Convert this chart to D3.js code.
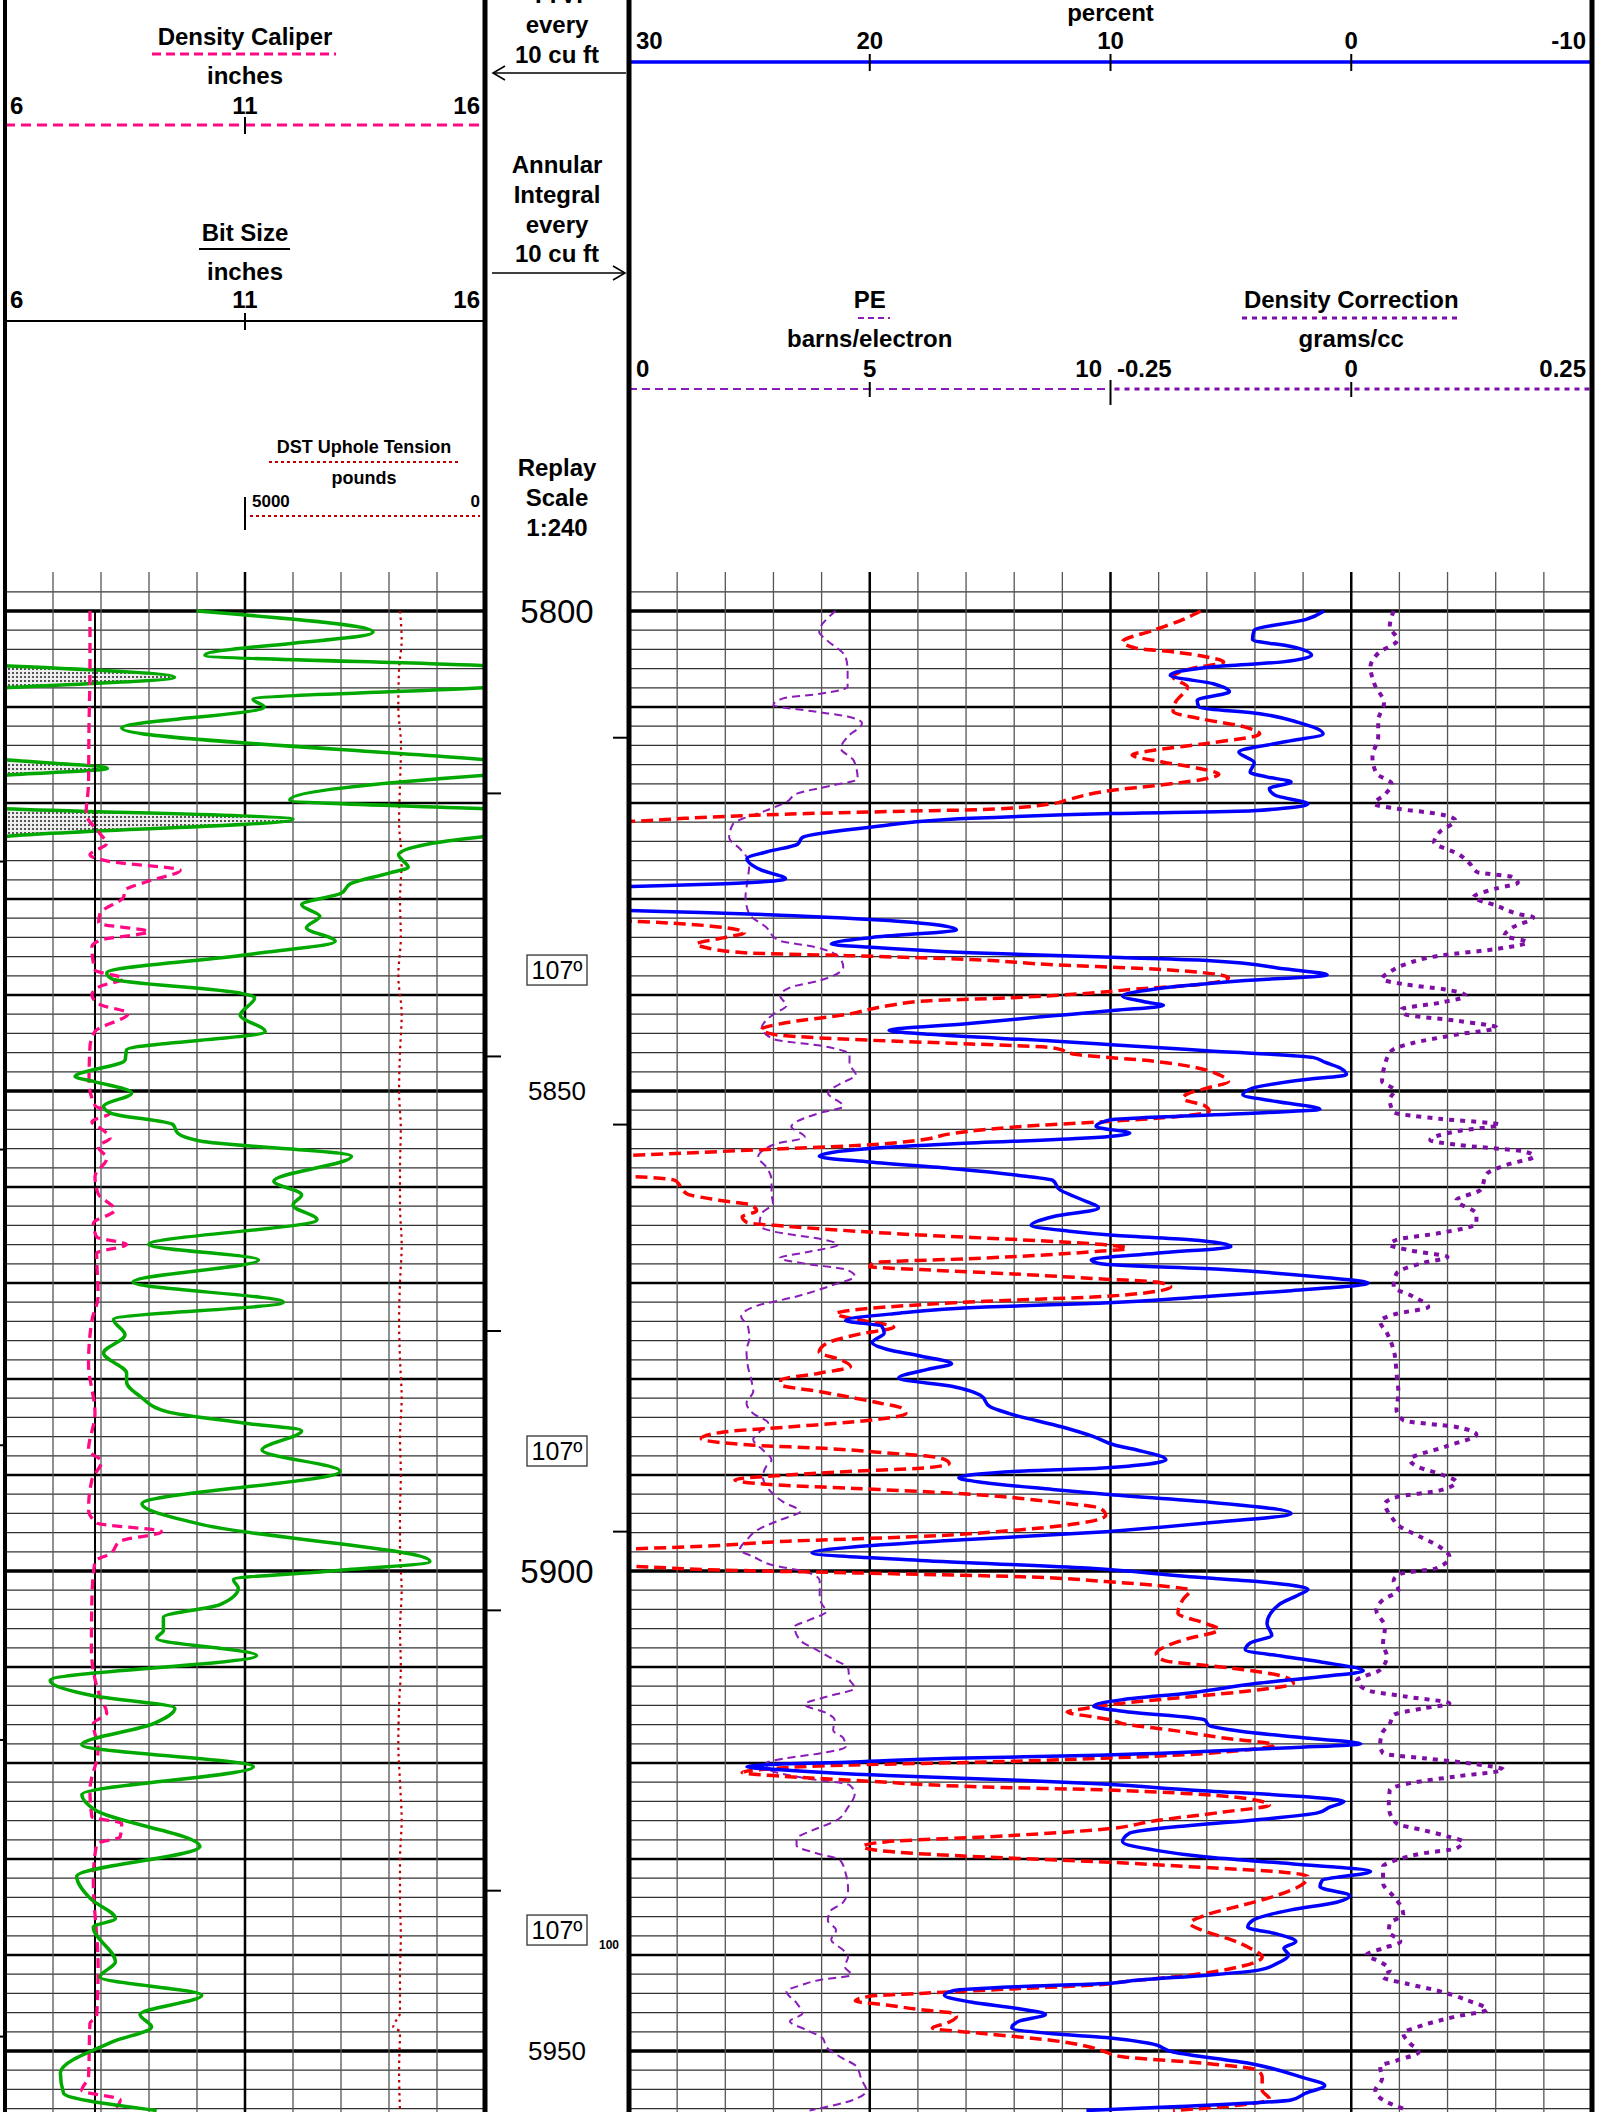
<!DOCTYPE html>
<html><head><meta charset="utf-8">
<script src="https://cdn.jsdelivr.net/npm/d3@7"></script>
<style>
body{margin:0;background:#fff}
svg{display:block}
text{font-family:"Liberation Sans",Arial,sans-serif}
</style>
</head><body>
<svg id="log" width="1599" height="2112"></svg>
<script>
// ---------- curve data: [depth ft, value] ----------
const gammaRay = [ // API; values above 150 are drawn on the wrap-around backup
[5800.0,60],[5802.2,115],[5804.6,62.5],[5805.7,150],[5806.9,203],[5808.0,150],[5809.2,77.5],[5810.0,81],
[5812.2,36.5],[5815.5,150],[5816.4,182],[5817.1,150],[5819.7,89],[5820.6,150],[5821.7,240],[5823.5,150],
[5825.4,123],[5826.7,126],[5827.3,120],[5828.4,108],[5829.4,105],[5830.6,92.7],[5831.8,98.4],[5833.0,94.2],
[5834.4,103.2],[5835.8,75.5],[5837.7,31.8],[5838.3,33.3],[5839.8,73.5],[5840.3,78],[5842.1,73.5],[5843.8,81.3],
[5845.7,38],[5846.8,37.5],[5848.5,21.9],[5849.0,27.6],[5850.2,39.6],[5851.6,30.8],[5852.3,33],[5853.5,52.5],
[5854.4,54],[5855.2,60.9],[5856.8,108.3],[5859.4,84],[5860.8,92.7],[5861.9,90],[5863.4,97.5],[5866.0,44.9],
[5867.6,79.2],[5869.9,40],[5872.0,87],[5873.8,33.9],[5875.4,37.5],[5877.3,30.8],[5879.4,38],[5880.3,38],
[5881.8,42.2],[5883.4,50.6],[5884.6,75],[5885.4,92.7],[5887.4,80.3],[5889.6,104.7],[5893.0,42.8],[5895.2,62],
[5899.0,132.8],[5900.0,102],[5900.9,71.4],[5901.8,72.9],[5903.5,67.2],[5904.8,49.5],[5906.2,49.5],[5907.0,47.4],
[5908.8,78.6],[5911.4,14.1],[5913.0,27.6],[5914.3,53.1],[5915.9,46.4],[5918.1,24],[5920.4,77.6],[5923.3,24],
[5924.9,28.2],[5928.7,60.9],[5931.8,22.4],[5934.1,26.6],[5936.2,34.5],[5937.1,27.6],[5940.7,34.5],[5942.3,29.7],
[5944.2,61.5],[5946.2,42.2],[5947.5,45.8],[5949.0,33.9],[5952.3,17.3],[5954.4,18.3],[5956.2,47.4]];

const densityCaliper = [ // inches
[5800,7.77],[5806,7.77],[5812,7.75],[5818,7.74],[5821.1,7.69],[5823.2,7.98],[5824.2,8.12],[5825.4,7.77],
[5826.1,8.19],[5827.0,9.65],[5828.2,8.95],[5829.1,8.5],[5829.8,8.47],[5831.5,7.98],[5832.5,7.95],[5833.4,8.99],
[5834.3,7.98],[5835.0,7.81],[5837.4,7.875],[5838.3,8.47],[5839.1,7.98],[5840.0,7.81],[5841.0,7.98],[5841.9,8.57],
[5843.8,7.875],[5845.4,7.77],[5849.0,7.75],[5851.5,7.875],[5852.3,8.19],[5853.2,7.81],[5854.1,8.05],[5854.9,8.19],
[5855.8,7.94],[5857.0,8.12],[5858.9,7.875],[5860.7,7.94],[5862.4,8.29],[5863.8,7.84],[5865.2,7.91],[5866.0,8.53],
[5866.9,7.91],[5871.4,7.94],[5873.9,7.81],[5878.4,7.74],[5883.6,7.875],[5887.4,7.74],[5888.6,8.01],[5890.5,7.81],
[5893.6,7.74],[5895.0,7.91],[5895.9,9.26],[5896.9,8.4],[5898.2,8.19],[5899.0,7.875],[5903.0,7.81],[5908,7.8],
[5913.1,7.98],[5914.8,8.12],[5915.9,7.84],[5918.6,7.94],[5922.8,7.77],[5925.6,7.81],[5926.3,8.43],[5927.7,8.4],
[5928.4,7.91],[5932.2,7.84],[5941.2,7.94],[5946.4,7.91],[5947.1,7.77],[5952.7,7.74],[5954.1,7.6],[5955.1,8.4],
[5956.2,8.26]];

const bitSize = [[5800,7.875],[5956.5,7.875]]; // inches

const dstTension = [ // pounds
[5800,1771],[5803,1736],[5806,1790],[5810,1806],[5814,1750],[5818,1771],[5822,1790],[5826,1736],[5830,1771],
[5834,1754],[5838,1806],[5842,1736],[5846,1771],[5850,1790],[5854,1754],[5858,1771],[5862,1771],[5866,1736],
[5870,1771],[5874,1790],[5878,1771],[5882,1736],[5886,1771],[5890,1754],[5894,1771],[5898,1771],[5902,1736],
[5906,1771],[5910,1754],[5914,1790],[5918,1806],[5922,1771],[5926,1736],[5930,1771],[5934,1771],[5938,1754],
[5942,1771],[5946,1771],[5947.5,1910],[5948,1771],[5952,1790],[5956.2,1771]];

const densityPorosity = [ // percent (solid blue)
[5800.0,1.13],[5800.9,1.9],[5802.0,4.03],[5803.0,4.1],[5803.7,2.5],[5804.6,1.65],[5805.3,2.84],[5805.8,5.7],
[5806.7,7.52],[5807.6,5.7],[5808.4,5.06],[5809.3,6.4],[5810.0,6.33],[5810.7,3.8],[5811.6,2.2],[5812.8,1.17],
[5813.6,2.7],[5814.7,4.67],[5815.8,4.03],[5816.8,4.2],[5817.3,3.48],[5817.8,2.5],[5818.5,3.4],[5819.2,3.16],
[5820.1,1.8],[5820.8,4.1],[5821.1,10.0],[5821.6,15.8],[5822.5,19.9],[5823.6,22.8],[5824.3,23.0],[5825.1,24.3],
[5825.8,25.1],[5827.0,24.5],[5827.9,23.5],[5828.4,26.0],[5828.7,29.9],[5829.2,36],[5830.7,36],[5831.2,30.0],
[5831.4,27.0],[5831.9,21.8],[5832.6,17.5],[5833.2,16.4],[5834.0,19.9],[5834.7,21.6],[5835.0,20.1],[5835.6,15.8],
[5836.1,9.6],[5836.4,6.0],[5837.3,2.7],[5837.9,1.0],[5838.5,4.4],[5839.4,8.2],[5840.1,9.5],[5840.7,8.6],
[5841.1,7.8],[5841.6,9.8],[5842.3,13.0],[5843.0,16.0],[5843.7,19.2],[5844.1,17.5],[5844.8,12.4],[5845.2,9.8],
[5845.8,6.0],[5846.5,1.6],[5847.0,1.1],[5847.6,0.46],[5848.3,0.2],[5848.8,1.9],[5849.7,4.1],[5850.4,4.5],
[5851.1,3.1],[5851.9,1.3],[5852.3,3.9],[5853.0,10.0],[5853.7,10.6],[5854.4,9.2],[5854.9,11.0],[5855.5,16.5],
[5856.0,20.0],[5856.8,22.1],[5857.4,20.0],[5858.1,16.5],[5858.8,13.8],[5859.3,12.4],[5860.3,12.1],[5861.2,11.3],
[5862.2,10.5],[5863.1,12.4],[5864.0,13.3],[5864.6,11.7],[5865.0,10.0],[5865.5,6.7],[5866.2,5.0],[5866.9,8.1],
[5867.6,10.8],[5868.0,10.4],[5868.6,5.3],[5869.4,1.2],[5870.0,-0.7],[5870.8,2.5],[5871.4,6.0],[5872.1,10.5],
[5872.5,15.2],[5873.2,19.0],[5873.9,21.0],[5874.5,19.5],[5875.2,19.4],[5876.2,19.9],[5876.9,19.3],[5877.6,17.9],
[5878.4,16.6],[5879.0,17.6],[5879.9,18.8],[5880.8,16.5],[5881.7,15.4],[5882.9,15.0],[5883.6,14.2],[5885.0,12.0],
[5886.0,10.7],[5886.9,9.8],[5887.4,8.9],[5888.4,7.7],[5889.3,10.5],[5889.6,13.8],[5890.3,16.3],[5890.8,15.2],
[5891.5,12.4],[5892.0,10.2],[5892.8,6.0],[5894.0,2.5],[5895.0,6.0],[5895.9,10.2],[5896.8,16.5],[5897.5,20.7],
[5898.1,22.4],[5898.9,17.9],[5899.7,11.0],[5900.6,6.7],[5901.1,3.9],[5901.9,1.8],[5902.5,2.2],[5903.5,3.0],
[5905.5,3.5],[5906.7,3.3],[5907.5,4.2],[5908.2,4.4],[5908.9,2.8],[5909.5,1.2],[5910.4,-0.5],[5911.0,1.2],
[5911.7,3.9],[5912.7,6.7],[5913.4,9.5],[5914.1,10.7],[5914.6,9.5],[5915.5,6.1],[5916.1,5.9],[5916.7,4.6],
[5917.4,1.9],[5918.0,-0.4],[5918.4,2.5],[5919.0,8.1],[5919.2,10.5],[5919.5,16.5],[5919.9,20.7],[5920.2,24.4],
[5920.4,25.1],[5920.7,23.7],[5921.3,19.3],[5921.8,13.8],[5922.2,10.3],[5922.8,6.7],[5923.5,2.0],[5924.0,0.3],
[5924.6,0.9],[5925.2,1.4],[5925.9,3.9],[5926.5,6.7],[5927.3,9.2],[5928.2,9.5],[5929.1,8.1],[5929.8,6.0],
[5930.5,2.5],[5931.3,-0.8],[5932.2,1.2],[5932.9,1.3],[5933.8,0.06],[5934.5,0.6],[5935.3,2.5],[5936.4,4.1],
[5937.1,4.3],[5937.8,3.1],[5938.6,2.3],[5939.3,2.8],[5940.0,2.6],[5940.9,3.1],[5941.6,3.9],[5942.1,6.0],
[5942.6,8.8],[5943.0,10.5],[5943.3,13.8],[5943.7,16.5],[5944.2,16.9],[5944.9,15.8],[5945.6,13.8],[5946.2,12.7],
[5946.9,13.8],[5947.6,14.1],[5948.2,12.4],[5948.6,10.2],[5949.2,8.4],[5950.1,7.4],[5951.3,4.2],[5952.7,2.1],
[5953.6,1.1],[5954.4,1.9],[5955.1,2.5],[5955.8,7.4],[5956.2,11.0]];

const neutronPorosity = [ // percent (dashed red)
[5800.0,6.25],[5800.9,7.0],[5802.0,8.2],[5803.2,9.5],[5803.9,8.9],[5804.2,7.6],[5804.8,6.0],[5805.3,5.3],
[5806.0,6.65],[5806.9,7.4],[5807.9,6.8],[5809.5,7.3],[5810.5,7.4],[5811.2,6.3],[5812.1,4.4],[5812.8,3.8],
[5813.8,6.0],[5814.5,8.2],[5815.0,9.1],[5815.7,7.9],[5816.4,6.3],[5817.0,5.5],[5817.6,6.3],[5818.2,8.2],
[5818.7,10.0],[5819.6,11.7],[5820.1,12.5],[5820.7,15.5],[5820.8,17.5],[5821.1,22.6],[5821.6,27.7],[5821.9,29.8],
[5822.3,36],[5831.9,36],[5832.3,30.0],[5832.6,27.7],[5833.1,25.7],[5833.5,25.2],[5834.0,26.0],[5834.7,27.2],
[5835.0,26.9],[5835.6,25.2],[5835.9,20.9],[5836.3,15.8],[5836.8,12.7],[5837.3,8.2],[5837.8,5.7],[5838.2,5.1],
[5838.9,6.3],[5839.4,9.0],[5839.9,11.4],[5840.3,14.3],[5840.6,17.5],[5841.1,19.2],[5842.0,20.9],[5842.9,23.5],
[5843.6,24.5],[5844.1,24.0],[5844.7,20.1],[5845.1,15.8],[5845.5,12.4],[5846.2,11.4],[5846.9,8.2],[5847.7,6.2],
[5848.3,5.5],[5849.0,5.1],[5849.7,6.0],[5850.3,6.8],[5850.8,7.0],[5851.5,6.1],[5852.1,5.9],[5852.7,7.4],
[5853.2,10.3],[5853.7,13.7],[5854.4,16.5],[5855.1,17.9],[5855.6,20.0],[5856.0,23.4],[5856.3,26.2],[5856.7,30.0],
[5857.2,36],[5858.5,36],[5858.9,30],[5859.3,28.1],[5859.8,27.9],[5860.7,27.6],[5861.4,26.2],[5861.9,24.9],
[5862.5,24.7],[5863.1,25.3],[5863.7,25.1],[5864.1,23.4],[5864.6,20.6],[5865.0,17.9],[5865.5,13.7],[5866.0,10.3],
[5866.4,9.3],[5866.7,10.5],[5867.4,15.2],[5867.9,19.8],[5868.3,20.0],[5868.6,17.9],[5869.1,13.7],[5869.6,10.2],
[5869.9,8.1],[5870.4,7.5],[5871.1,8.8],[5871.4,10.3],[5871.9,15.2],[5872.5,19.3],[5873.2,21.4],[5873.9,20.3],
[5874.6,19.0],[5875.3,20.4],[5876.3,21.8],[5877.2,22.1],[5878.0,21.2],[5878.7,20.8],[5879.4,22.1],[5880.1,23.7],
[5880.6,23.7],[5881.3,22.1],[5882.0,20.6],[5882.5,19.6],[5883.0,18.7],[5883.6,18.5],[5884.3,20.0],[5885.0,23.4],
[5885.5,26.0],[5886.2,27.0],[5886.9,24.8],[5887.2,22.1],[5887.7,19.3],[5888.2,17.1],[5888.8,16.7],[5889.3,17.9],
[5889.6,20.6],[5890.0,23.4],[5890.5,25.6],[5891.0,24.1],[5891.4,20.6],[5891.9,16.5],[5892.8,12.4],[5893.5,10.4],
[5894.2,10.2],[5895.0,11.2],[5895.7,13.7],[5896.4,17.9],[5896.9,23.4],[5897.5,27.6],[5897.7,30],[5898.2,36],
[5899.1,36],[5899.5,30],[5899.9,26.2],[5900.2,20.6],[5900.6,13.7],[5901.1,10.2],[5901.5,8.1],[5902.0,6.7],
[5903.0,7.0],[5904.4,7.2],[5905.5,6.0],[5906.1,5.5],[5907.2,7.0],[5908.6,8.1],[5909.3,7.8],[5910.1,5.0],
[5911.0,2.8],[5911.7,2.4],[5912.4,3.9],[5913.1,6.7],[5913.8,9.6],[5914.3,11.0],[5914.7,11.8],[5915.2,10.7],
[5915.5,10.0],[5915.9,9.5],[5916.6,7.4],[5917.4,5.3],[5918.1,3.2],[5918.7,4.6],[5919.2,7.4],[5919.5,10.3],
[5919.9,15.2],[5920.2,20.7],[5920.7,24.6],[5921.0,25.3],[5921.4,23.5],[5921.9,20.0],[5922.5,15.2],[5922.8,10.3],
[5923.2,6.7],[5923.9,3.9],[5924.4,3.4],[5925.1,5.3],[5926.0,8.1],[5926.9,10.3],[5927.7,15.2],[5928.2,19.3],
[5928.7,20.3],[5929.2,19.3],[5929.8,15.2],[5930.3,10.3],[5930.8,6.7],[5931.3,3.2],[5931.8,1.8],[5932.6,2.0],
[5933.8,3.1],[5934.8,4.5],[5935.8,6.0],[5936.7,6.7],[5937.6,6.0],[5938.4,5.0],[5939.3,4.2],[5940.2,3.7],
[5941.2,4.6],[5942.1,6.7],[5942.8,9.5],[5943.1,10.5],[5943.5,13.8],[5944.0,17.9],[5944.3,20.0],[5944.8,20.6],
[5945.2,19.3],[5945.7,17.9],[5946.1,16.5],[5946.4,16.4],[5947.1,16.8],[5947.6,17.4],[5948.2,15.2],[5948.9,12.4],
[5949.5,11.0],[5950.1,10.2],[5950.6,9.5],[5951.3,6.0],[5952.0,3.9],[5952.7,3.7],[5954.1,3.7],[5955.0,3.4],
[5955.8,5.3],[5956.2,7.4]];

const photoElectric = [ // barns/electron
[5800.0,4.29],[5802.2,3.95],[5803.0,4.1],[5804.8,4.5],[5806.2,4.54],[5807.9,4.54],[5808.6,4.0],[5809.1,3.2],
[5809.8,3.0],[5810.5,3.9],[5811.0,4.54],[5811.7,4.84],[5813.1,4.54],[5814.3,4.4],[5815.6,4.67],[5817.5,4.75],
[5818.2,4.2],[5819.0,3.5],[5819.9,3.27],[5820.8,2.84],[5822.2,2.16],[5823.6,2.08],[5824.9,2.33],[5826.3,2.5],
[5828.1,2.46],[5829.8,2.42],[5831.6,2.5],[5832.9,2.84],[5834.3,3.1],[5835.0,3.86],[5836.1,4.37],[5837.1,4.45],
[5838.5,3.95],[5839.2,3.35],[5840.1,3.14],[5841.1,3.27],[5842.0,3.0],[5843.4,2.76],[5844.6,3.0],[5845.3,4.0],
[5846.2,4.58],[5847.2,4.58],[5848.3,4.71],[5849.3,4.37],[5850.2,4.13],[5851.6,4.45],[5852.3,3.96],[5853.2,3.48],
[5853.7,3.37],[5854.8,3.65],[5855.5,3.06],[5856.2,2.78],[5856.9,2.68],[5857.9,2.85],[5859.3,2.96],[5860.7,2.96],
[5861.7,2.99],[5862.8,2.75],[5864.0,2.71],[5864.7,3.06],[5865.4,3.96],[5866.0,4.34],[5866.8,3.68],[5867.4,3.13],
[5868.0,3.68],[5868.6,4.5],[5869.3,4.69],[5870.2,4.24],[5871.4,3.48],[5872.5,2.58],[5873.5,2.33],[5874.5,2.47],
[5875.8,2.5],[5877.0,2.44],[5878.7,2.47],[5880.1,2.54],[5881.3,2.58],[5882.5,2.44],[5883.6,2.58],[5884.6,2.89],
[5885.5,2.71],[5886.3,2.58],[5887.4,2.78],[5888.4,2.96],[5889.1,2.85],[5890.2,2.78],[5891.4,2.89],[5892.8,3.2],
[5893.8,3.55],[5894.7,3.13],[5895.6,2.71],[5896.8,2.44],[5897.8,2.3],[5898.5,2.58],[5899.4,2.99],[5900.1,3.68],
[5901.0,3.96],[5902.7,3.96],[5903.4,4.0],[5904.2,4.1],[5905.1,3.75],[5905.8,3.44],[5907.2,3.55],[5908.2,3.89],
[5909.2,4.24],[5910.1,4.55],[5911.3,4.58],[5912.2,4.69],[5913.1,4.1],[5913.9,3.65],[5914.8,4.1],[5915.5,4.27],
[5916.6,4.24],[5917.4,4.45],[5918.3,4.5],[5919.0,3.96],[5919.5,3.27],[5920.0,2.85],[5920.7,2.92],[5921.6,3.68],
[5922.3,4.58],[5923.2,4.69],[5924.6,4.55],[5926.0,4.3],[5927.0,3.82],[5927.9,3.48],[5928.6,3.48],[5929.4,3.89],
[5930.1,4.38],[5931.5,4.5],[5933.2,4.55],[5934.5,4.45],[5935.5,4.17],[5936.4,4.13],[5937.4,4.3],[5938.4,4.2],
[5939.5,4.45],[5940.2,4.55],[5941.2,4.48],[5942.1,4.62],[5942.6,3.96],[5943.1,3.6],[5943.8,3.27],[5945.0,3.48],
[5946.1,3.6],[5946.9,3.34],[5947.8,3.68],[5948.7,4.03],[5949.6,4.1],[5950.6,4.38],[5951.6,4.72],[5953.0,4.83],
[5954.1,4.93],[5955.1,4.65],[5956.2,3.75]];

const densityCorrection = [ // grams/cc
[5800.0,0.044],[5801.6,0.04],[5803.0,0.048],[5804.4,0.028],[5805.8,0.02],[5807.6,0.024],[5809.6,0.034],
[5811.4,0.028],[5813.1,0.028],[5815.2,0.022],[5816.9,0.026],[5818.0,0.042],[5819.0,0.036],[5820.1,0.024],
[5820.6,0.048],[5821.1,0.088],[5821.8,0.108],[5823.0,0.092],[5824.1,0.086],[5825.3,0.111],[5826.3,0.123],
[5827.2,0.131],[5827.7,0.167],[5828.3,0.173],[5828.9,0.151],[5829.8,0.127],[5830.7,0.151],[5831.6,0.175],
[5831.9,0.189],[5833.0,0.167],[5833.8,0.159],[5834.5,0.183],[5835.2,0.151],[5835.9,0.092],[5836.8,0.056],
[5837.6,0.04],[5838.3,0.032],[5838.9,0.056],[5839.4,0.096],[5840.1,0.119],[5840.8,0.092],[5841.5,0.052],
[5842.0,0.056],[5842.7,0.111],[5843.4,0.151],[5844.1,0.111],[5845.0,0.064],[5845.8,0.042],[5847.6,0.034],
[5849.0,0.032],[5849.9,0.045],[5850.9,0.04],[5852.2,0.044],[5852.9,0.092],[5853.5,0.154],[5854.2,0.109],
[5855.1,0.082],[5855.6,0.109],[5856.3,0.179],[5856.8,0.19],[5857.7,0.161],[5858.6,0.141],[5860.3,0.134],
[5861.4,0.109],[5862.8,0.13],[5863.8,0.13],[5864.8,0.092],[5865.5,0.047],[5866.0,0.04],[5866.6,0.061],
[5867.3,0.1],[5867.9,0.075],[5869.0,0.047],[5870.4,0.044],[5871.4,0.064],[5872.5,0.08],[5873.2,0.047],
[5874.0,0.03],[5875.2,0.037],[5877.4,0.045],[5879.4,0.047],[5881.5,0.049],[5883.2,0.047],[5884.3,0.054],
[5885.0,0.109],[5885.8,0.13],[5887.0,0.099],[5888.4,0.061],[5889.1,0.068],[5890.0,0.095],[5890.7,0.109],
[5891.6,0.092],[5892.3,0.047],[5893.0,0.035],[5894.4,0.042],[5895.4,0.051],[5896.4,0.071],[5897.5,0.092],
[5898.5,0.102],[5899.7,0.089],[5900.3,0.051],[5901.0,0.044],[5902.0,0.049],[5903.0,0.033],[5904.1,0.026],
[5905.8,0.035],[5907.6,0.033],[5908.9,0.037],[5910.3,0.03],[5911.4,0.006],[5912.4,0.016],[5913.1,0.058],
[5913.8,0.102],[5914.3,0.075],[5915.0,0.044],[5915.9,0.04],[5916.9,0.032],[5918.1,0.03],[5919.0,0.033],
[5919.5,0.075],[5920.0,0.12],[5920.7,0.158],[5921.4,0.109],[5922.1,0.061],[5922.8,0.04],[5924.6,0.039],
[5926.3,0.047],[5927.0,0.075],[5927.7,0.102],[5928.2,0.116],[5928.9,0.109],[5929.4,0.075],[5930.1,0.047],
[5930.8,0.033],[5932.5,0.033],[5933.9,0.044],[5935.0,0.052],[5935.8,0.054],[5936.7,0.04],[5937.6,0.039],
[5938.6,0.051],[5939.3,0.033],[5940.0,0.016],[5940.7,0.03],[5941.6,0.04],[5942.3,0.033],[5943.0,0.058],
[5943.7,0.089],[5944.7,0.12],[5945.7,0.141],[5946.4,0.109],[5947.3,0.075],[5948.2,0.054],[5949.2,0.061],
[5950.1,0.07],[5951.0,0.047],[5951.6,0.03],[5952.9,0.032],[5954.1,0.025],[5955.1,0.033],[5956.0,0.054]];

// depth annotations
const depthLabels = [5800, 5850, 5900, 5950];
const temperatureMarks = [[5837.4,"107º"],[5887.5,"107º"],[5937.4,"107º"]];
const holeVolumeTicks = [5819.0, 5846.4, 5875.0, 5904.1, 5933.3];
const annularVolumeTicks = [5813.2, 5853.5, 5895.9];
const edgeTicks = [5826.1, 5856.1, 5886.9, 5917.6, 5948.5];

// scale tick labels
const caliperTicks = ["6","11","16"];
const porosityTicks = ["30","20","10","0","-10"];
const peTicks = ["0","5","10"];
const correctionTicks = ["-0.25","0","0.25"];
const tensionTicks = ["5000","0"];

// ---------- layout ----------
const W = 1599, H = 2112, gridTop = 572;
const L = {x0:5, x1:485}, D = {x0:485, x1:629}, R = {x0:629, x1:1592};

const y = d3.scaleLinear().domain([5800, 5950]).range([611, 2051]);
const caliperX = d3.scaleLinear().domain([6, 16]).range([L.x0, L.x1]);
const grX = d3.scaleLinear().domain([0, 150]).range([L.x0, L.x1]);
const tensionX = d3.scaleLinear().domain([5000, 0]).range([(L.x0+L.x1)/2, L.x1]);
const porX = d3.scaleLinear().domain([30, -10]).range([R.x0, R.x1]);
const peX = d3.scaleLinear().domain([0, 10]).range([R.x0, (R.x0+R.x1)/2]);
const dcX = d3.scaleLinear().domain([-0.25, 0.25]).range([(R.x0+R.x1)/2, R.x1]);

const svg = d3.select("#log");
svg.append("rect").attr("width", W).attr("height", H).attr("fill", "#fff");
const defs = svg.append("defs");
const pat = defs.append("pattern").attr("id","stipple").attr("width",4).attr("height",4)
  .attr("patternUnits","userSpaceOnUse");
pat.append("rect").attr("width",4).attr("height",4).attr("fill","#eee");
pat.append("rect").attr("width",2).attr("height",2).attr("fill","#555");
defs.append("clipPath").attr("id","clipL").append("rect")
  .attr("x",L.x0).attr("y",gridTop).attr("width",L.x1-L.x0).attr("height",H-gridTop);
defs.append("clipPath").attr("id","clipR").append("rect")
  .attr("x",R.x0).attr("y",gridTop).attr("width",R.x1-R.x0).attr("height",H-gridTop);

// ---------- grid ----------
const grid = svg.append("g");
const depthLines = d3.range(5798, 5957, 2);
[L, R].forEach(tr => {
  grid.selectAll(null).data(depthLines).enter().append("line")
    .attr("x1", tr.x0).attr("x2", tr.x1)
    .attr("y1", d => y(d)).attr("y2", d => y(d))
    .attr("stroke", d => d % 10 === 0 ? "#000" : "#333")
    .attr("stroke-width", d => d % 50 === 0 ? 3.5 : d % 10 === 0 ? 2.5 : 1.2);
});
const leftDivs = d3.range(7, 16, 1);
grid.selectAll(null).data(leftDivs).enter().append("line")
  .attr("x1", d => caliperX(d)).attr("x2", d => caliperX(d))
  .attr("y1", gridTop).attr("y2", H)
  .attr("stroke", d => d === 11 ? "#000" : "#555")
  .attr("stroke-width", d => d === 11 ? 2.5 : 1.3);
const rightDivs = d3.range(28, -10, -2);
grid.selectAll(null).data(rightDivs).enter().append("line")
  .attr("x1", d => porX(d)).attr("x2", d => porX(d))
  .attr("y1", gridTop).attr("y2", H)
  .attr("stroke", d => d % 10 === 0 ? "#000" : "#555")
  .attr("stroke-width", d => d % 10 === 0 ? 2.5 : 1.3);

// ---------- curves ----------
const lineOf = xs => d3.line().x(d => xs(d[1])).y(d => y(d[0])).curve(d3.curveMonotoneY);
const gL = svg.append("g").attr("clip-path","url(#clipL)");
const gR = svg.append("g").attr("clip-path","url(#clipR)");

// wrap-around backup of gamma ray with stipple fill
const backupX = d => grX(d[1] - 150);
gL.append("path").datum(gammaRay)
  .attr("d", d3.area().y(d => y(d[0])).x0(L.x0).x1(backupX).curve(d3.curveMonotoneY))
  .attr("fill","url(#stipple)");
gL.append("path").datum(gammaRay)
  .attr("d", d3.line().x(backupX).y(d => y(d[0])).curve(d3.curveMonotoneY))
  .attr("fill","none").attr("stroke","#00a800").attr("stroke-width",3.5);

gL.append("path").datum(bitSize).attr("d", lineOf(caliperX))
  .attr("fill","none").attr("stroke","#000").attr("stroke-width",2);
gL.append("path").datum(dstTension).attr("d", lineOf(tensionX))
  .attr("fill","none").attr("stroke","#c00000").attr("stroke-width",2.2).attr("stroke-dasharray","2.5,4");
gL.append("path").datum(densityCaliper).attr("d", lineOf(caliperX))
  .attr("fill","none").attr("stroke","#ff0a84").attr("stroke-width",3.3).attr("stroke-dasharray","10,6");
gL.append("path").datum(gammaRay).attr("d", lineOf(grX))
  .attr("fill","none").attr("stroke","#00a800").attr("stroke-width",3.5);

gR.append("path").datum(photoElectric).attr("d", lineOf(peX))
  .attr("fill","none").attr("stroke","#8a1cb8").attr("stroke-width",2).attr("stroke-dasharray","8,5");
gR.append("path").datum(densityCorrection).attr("d", lineOf(dcX))
  .attr("fill","none").attr("stroke","#7d0fa5").attr("stroke-width",4).attr("stroke-dasharray","5,6");
gR.append("path").datum(neutronPorosity).attr("d", lineOf(porX))
  .attr("fill","none").attr("stroke","#ff0000").attr("stroke-width",3.5).attr("stroke-dasharray","12,6");
gR.append("path").datum(densityPorosity).attr("d", lineOf(porX))
  .attr("fill","none").attr("stroke","#0000ff").attr("stroke-width",3.5);

// ---------- depth track ----------
const dc = (D.x0 + D.x1) / 2;
const dt = svg.append("g");
dt.selectAll(null).data(depthLabels).enter().append("text")
  .attr("x", dc).attr("y", d => y(d)).attr("dy","0.36em").attr("text-anchor","middle")
  .attr("font-size", d => d % 100 === 0 ? 33 : 26)
  .text(d => d);
const tm = dt.selectAll(null).data(temperatureMarks).enter().append("g");
tm.append("rect").attr("x", dc - 30).attr("y", d => y(d[0]) - 15).attr("width",60).attr("height",30)
  .attr("fill","#fff").attr("stroke","#333").attr("stroke-width",1.3);
tm.append("text").attr("x", dc).attr("y", d => y(d[0])).attr("dy","0.36em").attr("text-anchor","middle")
  .attr("font-size",25).text(d => d[1]);
dt.append("text").attr("x",609).attr("y",y(5937.4)+15).attr("dy","0.36em").attr("text-anchor","middle")
  .attr("font-size",12).attr("font-weight","bold").text("100");
dt.selectAll(null).data(holeVolumeTicks).enter().append("line")
  .attr("x1",D.x0).attr("x2",D.x0+16).attr("y1",d=>y(d)).attr("y2",d=>y(d))
  .attr("stroke","#000").attr("stroke-width",2);
dt.selectAll(null).data(annularVolumeTicks).enter().append("line")
  .attr("x1",D.x1-16).attr("x2",D.x1).attr("y1",d=>y(d)).attr("y2",d=>y(d))
  .attr("stroke","#000").attr("stroke-width",2);
dt.selectAll(null).data(edgeTicks).enter().append("line")
  .attr("x1",0).attr("x2",L.x0).attr("y1",d=>y(d)).attr("y2",d=>y(d))
  .attr("stroke","#000").attr("stroke-width",2);

// ---------- headers ----------
const hd = svg.append("g");
function label(x, yy, txt, size, anchor, weight) {
  hd.append("text").attr("x",x).attr("y",yy).attr("dy","0.36em")
    .attr("text-anchor",anchor||"middle").attr("font-size",size||24)
    .attr("font-weight",weight||"bold").text(txt);
}
function hline(x1,x2,yy,color,w,dash){
  const l = hd.append("line").attr("x1",x1).attr("x2",x2).attr("y1",yy).attr("y2",yy)
    .attr("stroke",color).attr("stroke-width",w);
  if (dash) l.attr("stroke-dasharray",dash);
}
function vtick(x,y1,y2,w){
  hd.append("line").attr("x1",x).attr("x2",x).attr("y1",y1).attr("y2",y2)
    .attr("stroke","#000").attr("stroke-width",w||2);
}
const lc = (L.x0+L.x1)/2;
// left track: density caliper
label(lc, 36, "Density Caliper");
hline(152, 336, 54, "#ff0a84", 3, "9,5");
label(lc, 75, "inches");
label(10, 105, caliperTicks[0], 24, "start");
label(lc, 105, caliperTicks[1]);
label(480, 105, caliperTicks[2], 24, "end");
hline(L.x0, L.x1, 125, "#ff0a84", 3, "10,6");
vtick(lc, 117, 134);
// bit size
label(lc, 232, "Bit Size");
hline(199, 290, 249, "#000", 2);
label(lc, 271, "inches");
label(10, 299, caliperTicks[0], 24, "start");
label(lc, 299, caliperTicks[1]);
label(480, 299, caliperTicks[2], 24, "end");
hline(L.x0, L.x1, 321, "#000", 2);
vtick(lc, 313, 330);
// DST uphole tension
label(364, 447, "DST Uphole Tension", 18);
hline(269, 458, 462, "#c00000", 2, "3,3");
label(364, 478, "pounds", 18);
label(252, 501, tensionTicks[0], 17, "start");
label(480, 501, tensionTicks[1], 17, "end");
hline(250, 480, 516, "#c00000", 2, "3,3");
vtick(lc, 497, 530);

// depth track header
const mc = (D.x0 + D.x1) / 2;
label(mc, -6, "TTVI");
label(mc, 24, "every");
label(mc, 54, "10 cu ft");
hline(493, 626, 73, "#000", 1.6);
hd.append("path").attr("d", `M505,66 L493,73 L505,80`).attr("fill","none").attr("stroke","#000").attr("stroke-width",1.6);
label(mc, 164, "Annular");
label(mc, 194, "Integral");
label(mc, 224, "every");
label(mc, 253, "10 cu ft");
hline(492, 625, 273, "#000", 1.6);
hd.append("path").attr("d", `M613,266 L625,273 L613,280`).attr("fill","none").attr("stroke","#000").attr("stroke-width",1.6);
label(mc, 467, "Replay");
label(mc, 497, "Scale");
label(mc, 527, "1:240");

// right track: porosity
label(porX(10), 12, "percent");
label(636, 40, porosityTicks[0], 24, "start");
label(porX(20), 40, porosityTicks[1]);
label(porX(10), 40, porosityTicks[2]);
label(porX(0), 40, porosityTicks[3]);
label(1586, 40, porosityTicks[4], 24, "end");
hline(R.x0, R.x1, 62, "#0000ff", 3.5);
[20,10,0].forEach(v => vtick(porX(v), 54, 71));
// PE
label(peX(5), 299, "PE");
hline(858, 890, 318, "#8a1cb8", 2, "6,4");
label(peX(5), 338, "barns/electron");
label(636, 368, peTicks[0], 24, "start");
label(peX(5), 368, peTicks[1]);
label(1102, 368, peTicks[2], 24, "end");
hline(R.x0, peX(10), 389, "#8a1cb8", 2, "8,5");
// density correction
label(dcX(0), 299, "Density Correction");
hline(1242, 1462, 318, "#7d0fa5", 3, "5,5");
label(dcX(0), 338, "grams/cc");
label(1117, 368, correctionTicks[0], 24, "start");
label(dcX(0), 368, correctionTicks[1]);
label(1586, 368, correctionTicks[2], 24, "end");
hline(peX(10)+4, R.x1, 389, "#7d0fa5", 3, "5,5");
vtick(peX(5), 382, 397);
vtick(peX(10), 380, 405);
vtick(dcX(0), 382, 397);

// ---------- track borders ----------
[[L.x0,4],[L.x1,5],[R.x0,5],[R.x1,5]].forEach(([x,w]) => {
  svg.append("line").attr("x1",x).attr("x2",x).attr("y1",0).attr("y2",H)
    .attr("stroke","#000").attr("stroke-width",w);
});
</script>
</body></html>
